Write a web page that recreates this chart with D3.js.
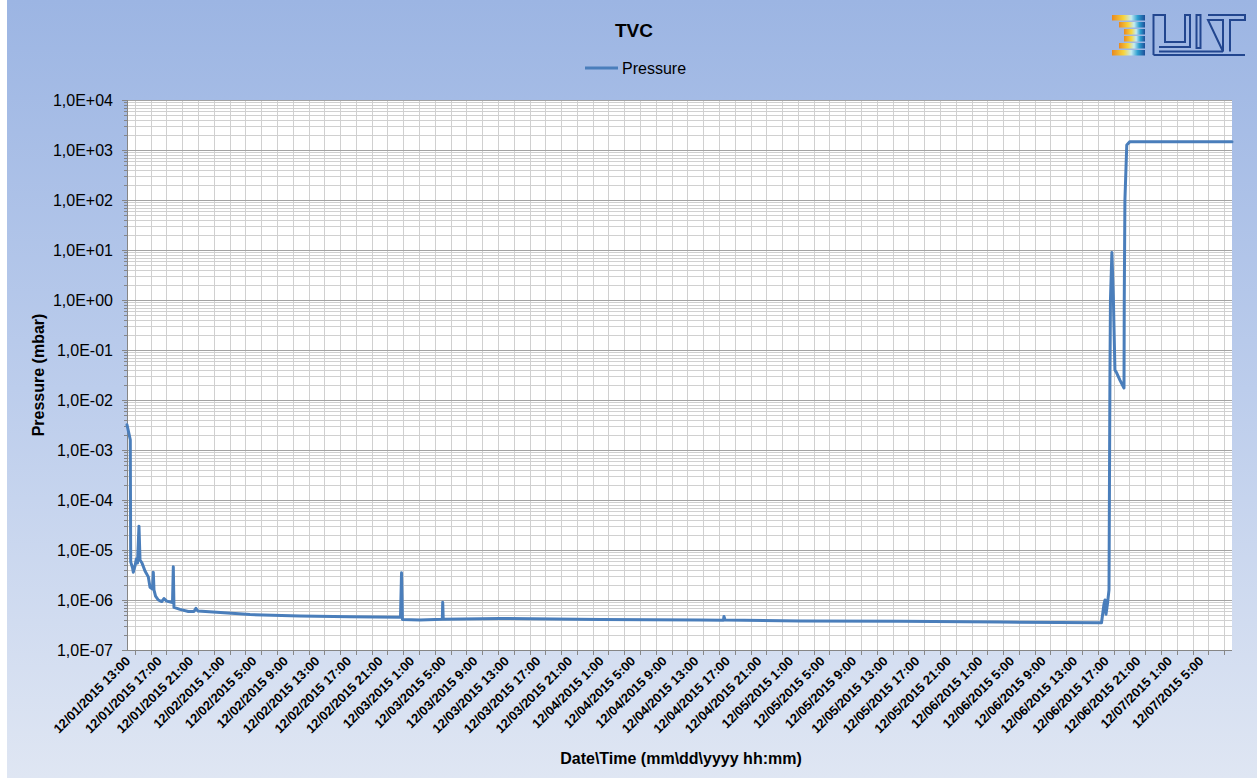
<!DOCTYPE html>
<html>
<head>
<meta charset="utf-8">
<script src="https://cdn.jsdelivr.net/npm/d3@7"></script>
<style>
    body { margin: 0; background: #ffffff; }
    text { font-family: Arial, "Liberation Sans", sans-serif; fill: #000; }
</style>
</head>
<body>
<div id="wrapper"></div>
<script>
const times = [
    "2015-12-01 13:00", "2015-12-01 13:25", "2015-12-01 13:28", "2015-12-01 13:42", "2015-12-01 13:48",
    "2015-12-01 14:01", "2015-12-01 14:11", "2015-12-01 14:20", "2015-12-01 14:31", "2015-12-01 14:39",
    "2015-12-01 14:54", "2015-12-01 15:17", "2015-12-01 15:42", "2015-12-01 15:55", "2015-12-01 16:14",
    "2015-12-01 16:20", "2015-12-01 16:25", "2015-12-01 16:37", "2015-12-01 16:58", "2015-12-01 17:24",
    "2015-12-01 17:41", "2015-12-01 18:02", "2015-12-01 18:46", "2015-12-01 18:52", "2015-12-01 18:57",
    "2015-12-01 19:43", "2015-12-01 20:46", "2015-12-01 21:29", "2015-12-01 21:44", "2015-12-01 22:00",
    "2015-12-02 00:22", "2015-12-02 04:35", "2015-12-02 10:55", "2015-12-02 17:15", "2015-12-02 23:39",
    "2015-12-02 23:47", "2015-12-02 23:54", "2015-12-03 02:07", "2015-12-03 04:57", "2015-12-03 05:00",
    "2015-12-03 05:04", "2015-12-03 12:16", "2015-12-04 00:56", "2015-12-04 13:36", "2015-12-04 16:34",
    "2015-12-04 16:38", "2015-12-04 16:46", "2015-12-05 02:16", "2015-12-05 14:56", "2015-12-06 03:36",
    "2015-12-06 16:28", "2015-12-06 16:47", "2015-12-06 16:55", "2015-12-06 17:02", "2015-12-06 17:13",
    "2015-12-06 17:25", "2015-12-06 17:32", "2015-12-06 17:36", "2015-12-06 17:47", "2015-12-06 17:58",
    "2015-12-06 18:10", "2015-12-06 18:23", "2015-12-06 18:48", "2015-12-06 19:19", "2015-12-06 19:21",
    "2015-12-06 19:26", "2015-12-06 19:40", "2015-12-06 20:04", "2015-12-07 09:00"
]
const pressures = [
    3.2e-3, 1.6e-3, 5.8e-6, 4.4e-6, 3.6e-6,
    4.8e-6, 6.6e-6, 5.5e-6, 3.0e-5, 6.3e-6,
    5.5e-6, 3.8e-6, 2.9e-6, 1.8e-6, 1.66e-6,
    3.6e-6, 1.6e-6, 1.2e-6, 1.0e-6, 9.3e-7,
    1.07e-6, 9.5e-7, 8.9e-7, 4.6e-6, 7.1e-7,
    6.5e-7, 5.9e-7, 5.9e-7, 6.8e-7, 6.0e-7,
    5.7e-7, 5.1e-7, 4.8e-7, 4.6e-7, 4.5e-7,
    3.5e-6, 4.07e-7, 3.98e-7, 4.1e-7, 9.0e-7,
    4.1e-7, 4.27e-7, 4.07e-7, 4.0e-7, 3.95e-7,
    4.7e-7, 3.98e-7, 3.8e-7, 3.77e-7, 3.63e-7,
    3.5e-7, 8.3e-7, 1.0e-6, 5.2e-7, 8.3e-7,
    1.6e-6, 2.5e-2, 1.0, 8.9, 1.15,
    4.0e-2, 3.5e-2, 2.5e-2, 1.74e-2, 1.0,
    100, 1260, 1470, 1470
]

const yTickValues = [1e-7, 1e-6, 1e-5, 1e-4, 1e-3, 1e-2, 1e-1, 1e0, 1e1, 1e2, 1e3, 1e4]
const yTickLabels = ["1,0E-07", "1,0E-06", "1,0E-05", "1,0E-04", "1,0E-03", "1,0E-02",
    "1,0E-01", "1,0E+00", "1,0E+01", "1,0E+02", "1,0E+03", "1,0E+04"]

const xTickLabels = [
    "12/01/2015 13:00", "12/01/2015 17:00", "12/01/2015 21:00",
    "12/02/2015 1:00", "12/02/2015 5:00", "12/02/2015 9:00", "12/02/2015 13:00", "12/02/2015 17:00", "12/02/2015 21:00",
    "12/03/2015 1:00", "12/03/2015 5:00", "12/03/2015 9:00", "12/03/2015 13:00", "12/03/2015 17:00", "12/03/2015 21:00",
    "12/04/2015 1:00", "12/04/2015 5:00", "12/04/2015 9:00", "12/04/2015 13:00", "12/04/2015 17:00", "12/04/2015 21:00",
    "12/05/2015 1:00", "12/05/2015 5:00", "12/05/2015 9:00", "12/05/2015 13:00", "12/05/2015 17:00", "12/05/2015 21:00",
    "12/06/2015 1:00", "12/06/2015 5:00", "12/06/2015 9:00", "12/06/2015 13:00", "12/06/2015 17:00", "12/06/2015 21:00",
    "12/07/2015 1:00", "12/07/2015 5:00"
]
const xDomainLabels = ["12/01/2015 13:00", "12/07/2015 9:00"]

function drawChart() {
    const parseTime = d3.timeParse("%Y-%m-%d %H:%M")
    const parseLabel = d3.timeParse("%m/%d/%Y %H:%M")
    const dataset = times.map((t, i) => ({ date: parseTime(t), value: pressures[i] }))

    const dimensions = {
        width: 1257,
        height: 782,
        margin: { top: 100, right: 25, bottom: 132, left: 127 }
    }
    dimensions.boundedWidth = dimensions.width - dimensions.margin.left - dimensions.margin.right
    dimensions.boundedHeight = dimensions.height - dimensions.margin.top - dimensions.margin.bottom

    const wrapper = d3.select("#wrapper")
        .append("svg")
        .attr("width", dimensions.width)
        .attr("height", dimensions.height)

    const defs = wrapper.append("defs")
    const bg = defs.append("linearGradient")
        .attr("id", "bg-gradient")
        .attr("x1", 0).attr("y1", 0).attr("x2", 0).attr("y2", 1)
    bg.append("stop").attr("offset", "0%").attr("stop-color", "#9cb5e3")
    bg.append("stop").attr("offset", "50%").attr("stop-color", "#bccdec")
    bg.append("stop").attr("offset", "100%").attr("stop-color", "#dfe6f3")

    // chart area background
    wrapper.append("rect")
        .attr("x", 7)
        .attr("y", 0)
        .attr("width", dimensions.width - 7)
        .attr("height", 778)
        .attr("fill", "url(#bg-gradient)")

    const bounds = wrapper.append("g")
        .attr("transform", `translate(${dimensions.margin.left}, ${dimensions.margin.top})`)

    const xScale = d3.scaleTime()
        .domain(xDomainLabels.map(parseLabel))
        .range([0, dimensions.boundedWidth])

    const yScale = d3.scaleLog()
        .domain([yTickValues[0], yTickValues[yTickValues.length - 1]])
        .range([dimensions.boundedHeight, 0])

    bounds.append("rect")
        .attr("width", dimensions.boundedWidth)
        .attr("height", dimensions.boundedHeight)
        .attr("fill", "#ffffff")

    // gridlines
    const minorY = []
    yTickValues.slice(0, -1).forEach(v => {
        d3.range(2, 10).forEach(m => minorY.push(v * m))
    })
    const twoHourTicks = d3.timeHour.every(2).range(xScale.domain()[0], new Date(+xScale.domain()[1] + 1))
    const labelDates = xTickLabels.map(parseLabel)
    const isMajorX = d => labelDates.some(l => +l === +d) || +d === +xScale.domain()[1]

    bounds.append("g")
        .selectAll("line")
        .data(minorY)
        .join("line")
        .attr("x1", 0)
        .attr("x2", dimensions.boundedWidth)
        .attr("y1", d => Math.round(yScale(d)) + 0.5)
        .attr("y2", d => Math.round(yScale(d)) + 0.5)
        .attr("stroke", "#d0d0d0")

    bounds.append("g")
        .selectAll("line")
        .data(twoHourTicks.filter(d => !isMajorX(d)))
        .join("line")
        .attr("x1", d => Math.round(xScale(d)) + 0.5)
        .attr("x2", d => Math.round(xScale(d)) + 0.5)
        .attr("y1", 0)
        .attr("y2", dimensions.boundedHeight)
        .attr("stroke", "#d0d0d0")

    bounds.append("g")
        .selectAll("line")
        .data(yTickValues)
        .join("line")
        .attr("x1", 0)
        .attr("x2", dimensions.boundedWidth)
        .attr("y1", d => Math.round(yScale(d)) + 0.5)
        .attr("y2", d => Math.round(yScale(d)) + 0.5)
        .attr("stroke", "#a3a3a3")

    bounds.append("g")
        .selectAll("line")
        .data(twoHourTicks.filter(isMajorX))
        .join("line")
        .attr("x1", d => Math.round(xScale(d)) + 0.5)
        .attr("x2", d => Math.round(xScale(d)) + 0.5)
        .attr("y1", 0)
        .attr("y2", dimensions.boundedHeight)
        .attr("stroke", "#a3a3a3")

    // axes
    const yAxis = bounds.append("g")
    yAxis.selectAll(".minor-tick")
        .data(minorY)
        .join("line")
        .attr("x1", -3).attr("x2", 0)
        .attr("y1", d => Math.round(yScale(d)) + 0.5)
        .attr("y2", d => Math.round(yScale(d)) + 0.5)
        .attr("stroke", "#868686")
    yAxis.selectAll(".major-tick")
        .data(yTickValues)
        .join("line")
        .attr("x1", -5).attr("x2", 0)
        .attr("y1", d => Math.round(yScale(d)) + 0.5)
        .attr("y2", d => Math.round(yScale(d)) + 0.5)
        .attr("stroke", "#868686")
    yAxis.append("line")
        .attr("x1", 0.5).attr("x2", 0.5)
        .attr("y1", 0).attr("y2", dimensions.boundedHeight)
        .attr("stroke", "#868686")
    yAxis.selectAll("text")
        .data(yTickValues)
        .join("text")
        .attr("x", -14)
        .attr("y", d => yScale(d))
        .attr("dy", "0.35em")
        .attr("text-anchor", "end")
        .style("font-size", "16px")
        .text((d, i) => yTickLabels[i])

    const xAxis = bounds.append("g")
        .attr("transform", `translate(0, ${dimensions.boundedHeight})`)
    xAxis.append("line")
        .attr("x1", 0).attr("x2", dimensions.boundedWidth)
        .attr("y1", 0.5).attr("y2", 0.5)
        .attr("stroke", "#868686")
    xAxis.selectAll("line.tick")
        .data(twoHourTicks)
        .join("line")
        .attr("class", "tick")
        .attr("x1", d => Math.round(xScale(d)) + 0.5)
        .attr("x2", d => Math.round(xScale(d)) + 0.5)
        .attr("y1", 0).attr("y2", 5)
        .attr("stroke", "#868686")
    xAxis.selectAll("text")
        .data(labelDates)
        .join("text")
        .attr("transform", d => `translate(${xScale(d) + 4}, 12) rotate(-45)`)
        .attr("text-anchor", "end")
        .style("font-size", "13px")
        .style("font-weight", "bold")
        .text((d, i) => xTickLabels[i])

    // the series
    const lineGenerator = d3.line()
        .x(d => xScale(d.date))
        .y(d => yScale(d.value))

    bounds.append("path")
        .attr("d", lineGenerator(dataset))
        .attr("fill", "none")
        .attr("stroke", "#4a7ebb")
        .attr("stroke-width", 3)
        .attr("stroke-linejoin", "round")
        .attr("stroke-linecap", "round")

    // titles
    wrapper.append("text")
        .attr("x", 634)
        .attr("y", 37)
        .attr("text-anchor", "middle")
        .style("font-size", "19px")
        .style("font-weight", "bold")
        .text("TVC")

    const legend = wrapper.append("g")
    legend.append("line")
        .attr("x1", 585).attr("x2", 618)
        .attr("y1", 68).attr("y2", 68)
        .attr("stroke", "#4a7ebb")
        .attr("stroke-width", 3)
    legend.append("text")
        .attr("x", 622)
        .attr("y", 74)
        .style("font-size", "16px")
        .text("Pressure")

    wrapper.append("text")
        .attr("transform", `translate(44, ${dimensions.margin.top + dimensions.boundedHeight / 2}) rotate(-90)`)
        .attr("text-anchor", "middle")
        .style("font-size", "16px")
        .style("font-weight", "bold")
        .text("Pressure (mbar)")

    wrapper.append("text")
        .attr("x", 681)
        .attr("y", 764)
        .attr("text-anchor", "middle")
        .style("font-size", "16px")
        .style("font-weight", "bold")
        .text("Date\\Time (mm\\dd\\yyyy hh:mm)")

    // logo
    const logoGrad = defs.append("linearGradient")
        .attr("id", "logo-gradient")
    logoGrad.append("stop").attr("offset", "0%").attr("stop-color", "#e98a1f")
    logoGrad.append("stop").attr("offset", "35%").attr("stop-color", "#f7d43c")
    logoGrad.append("stop").attr("offset", "58%").attr("stop-color", "#c6ecf2")
    logoGrad.append("stop").attr("offset", "78%").attr("stop-color", "#2b9ed0")
    logoGrad.append("stop").attr("offset", "100%").attr("stop-color", "#1d4e98")

    const logo = wrapper.append("g")
    const stripeStarts = [1112, 1119, 1124, 1124, 1119, 1112]
    logo.selectAll("rect")
        .data(stripeStarts)
        .join("rect")
        .attr("x", d => d)
        .attr("y", (d, i) => 15 + i * 7)
        .attr("width", d => 1145 - d)
        .attr("height", 5.5)
        .attr("fill", "url(#logo-gradient)")

    const logoPaths = [
        "M1153.5,55 V15 H1165 V42 H1185 V15 H1190 V47 H1159",
        "M1153.5,55 H1245",
        "M1159,51.5 H1223",
        "M1196.5,48 V15 H1200.5 V48 Z",
        "M1208,15 H1245 V20 H1230 V51.5 M1223,51.5 V20 H1208 Z"
    ]
    logo.selectAll("path")
        .data(logoPaths)
        .join("path")
        .attr("d", d => d)
        .attr("fill", "none")
        .attr("stroke", "#22468f")
        .attr("stroke-width", 2)
}

drawChart()
</script>
</body>
</html>
